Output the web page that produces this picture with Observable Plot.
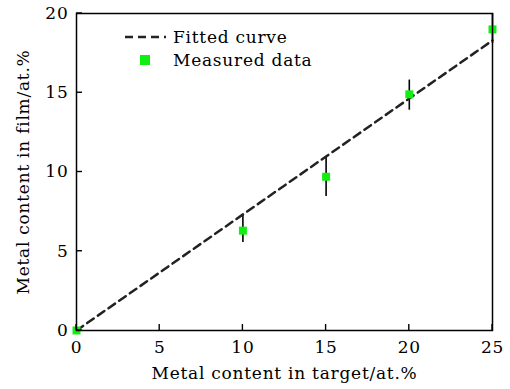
<!DOCTYPE html>
<html><head><meta charset="utf-8">
<script src="https://cdn.jsdelivr.net/npm/d3@7"></script>
<script src="https://cdn.jsdelivr.net/npm/@observablehq/plot@0.6"></script>
<style>
body{margin:0;background:#fff;}
#chart{position:relative;width:510px;height:389px;}
#chart svg text{letter-spacing:0.75px;}
</style>
</head><body><div id="chart"></div>
<script>
const targetContent = [0, 10, 15, 20, 25];
const filmContent = [0, 6.3, 9.7, 14.9, 19.0];
const errLow = [0, 5.55, 8.45, 13.9, 18.1];
const errHigh = [0, 7.3, 11.0, 15.8, 20.0];
const fitX = [0, 25];
const fitY = [0, 18.3];
const xTicks = [0, 5, 10, 15, 20, 25];
const yTicks = [0, 5, 10, 15, 20];

const points = targetContent.map((x, i) => ({x, y: filmContent[i], lo: errLow[i], hi: errHigh[i]}));
const fit = fitX.map((x, i) => ({x, y: fitY[i]}));
const bars = points.filter(d => d.hi > d.lo);

const W = 510, H = 389, ML = 76, MR = 18, MT = 13, MB = 59;
const TL = 6;
const font = "'DejaVu Serif', serif";
const green = "#11ee11";
const chart = Plot.plot({
  width: W, height: H,
  marginLeft: ML, marginRight: MR, marginTop: MT, marginBottom: MB,
  style: {fontFamily: font, fontSize: "17px", color: "#000", background: "#fff"},
  x: {domain: [0, 25], ticks: xTicks, label: null},
  y: {domain: [0, 20], ticks: yTicks, label: null},
  marks: [
    Plot.ruleX(bars, {x: "x", y1: "lo", y2: "hi", stroke: "#000", strokeWidth: 1.6}),
    Plot.line(fit, {x: "x", y: "y", stroke: "#222", strokeWidth: 2.5, strokeDasharray: "8,5"}),
    Plot.dot(points, {x: "x", y: "y", symbol: "square", r: 4.5, fill: green, stroke: "none", clip: false}),
    Plot.frame({stroke: "#000", strokeWidth: 1.5}),
    Plot.axisX({ticks: xTicks, tickSize: 0, tickPadding: 10, fontSize: 17, label: "Metal content in target/at.%", labelAnchor: "center", labelOffset: 48, labelArrow: "none"}),
    Plot.axisY({ticks: yTicks, tickSize: 0, tickPadding: 8, fontSize: 17, label: "Metal content in film/at.%", labelAnchor: "center", labelOffset: 60, labelArrow: "none"})
  ]
});
document.getElementById("chart").appendChild(chart);

const svg = d3.select(chart);
const sx = chart.scale("x"), sy = chart.scale("y");
// inward ticks
const tg = svg.append("g");
xTicks.forEach(v => {
  const px = sx.apply(v);
  tg.append("path").attr("d", `M${px},${H - MB}V${H - MB - TL}`).attr("stroke", "#000").attr("stroke-width", 1.4).attr("fill", "none");
});
yTicks.forEach(v => {
  const py = sy.apply(v);
  tg.append("path").attr("d", `M${ML},${py}H${ML + TL}`).attr("stroke", "#000").attr("stroke-width", 1.4).attr("fill", "none");
});

// legend
const lg = svg.append("g").attr("font-family", font).attr("font-size", 17).attr("fill", "#000").attr("text-anchor", "start");
lg.append("line").attr("x1", 125).attr("x2", 166).attr("y1", 37).attr("y2", 37)
  .attr("stroke", "#222").attr("stroke-width", 2.5).attr("stroke-dasharray", "8,5");
lg.append("text").attr("x", 173).attr("y", 37).attr("dy", "0.35em").text("Fitted curve");
lg.append("rect").attr("x", 140).attr("y", 55).attr("width", 10).attr("height", 10).attr("fill", green);
lg.append("text").attr("x", 173).attr("y", 60).attr("dy", "0.35em").text("Measured data");
</script>
</body></html>
